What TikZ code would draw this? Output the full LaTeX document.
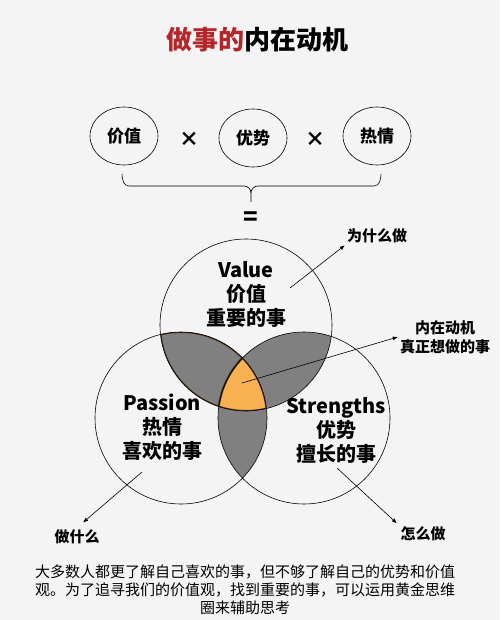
\documentclass[tikz,border=0pt]{standalone}
\usepackage{fontspec}
\setmainfont{Noto Sans CJK SC}
\usetikzlibrary{arrows.meta,shapes.geometric}
\definecolor{bgcol}{HTML}{F4F4F4}
\definecolor{titlered}{HTML}{B5262B}
\definecolor{lensgray}{HTML}{808080}
\definecolor{coreorange}{HTML}{F7B151}
\definecolor{coreedge}{HTML}{4A3418}
\tikzset{
	font=\bfseries,
	>={Latex[length=5pt,width=4pt]},
	factor/.style={draw, ellipse, line width=0.6pt, minimum width=68pt, minimum height=58pt,
		font=\fontsize{17}{17}\selectfont\bfseries},
	setlabel/.style={align=center, font=\fontsize{20}{24}\selectfont\bfseries},
	note/.style={align=center, inner sep=2pt, font=\fontsize{15}{19}\selectfont\bfseries},
	pointer/.style={->, line width=0.6pt}
}

\begin{document}
\begin{tikzpicture}[x=1pt, y=1pt]  % 1 unit = 1 pixel of the page

% page background
\fill[bgcol] (0,0) rectangle (500,-620);
\useasboundingbox (0,0) rectangle (500,-620);

% title
\node (title) at (257,-40) {\fontsize{26}{26}\selectfont\bfseries\textcolor{titlered}{做事的}内在动机};

% three factors
\node[factor] (val) at (124,-136) {价值};
\node[factor] (str) at (253,-138) {优势};
\node[factor] (pas) at (377,-136) {热情};
\node[font=\fontsize{20}{20}\selectfont\bfseries] (x1) at (189,-139) {×};
\node[font=\fontsize{20}{20}\selectfont\bfseries] (x2) at (315,-139) {×};

% brace
\draw[line width=0.6pt] (122,-174) to[out=-90,in=180] (129,-186) -- (244,-186)
	to[out=0,in=90] (251,-193) -- (251,-202);
\draw[line width=0.6pt] (381,-174) to[out=-90,in=0] (374,-186) -- (258,-186)
	to[out=180,in=90] (251,-193);

% equals
\node[font=\fontsize{24}{24}\selectfont\bfseries] (eq) at (251,-219) {=};

% venn circles
\def\topc{(246,-325) circle (86)}
\def\leftc{(181,-418) circle (86)}
\def\rightc{(304,-418) circle (86)}

% pairwise overlaps
\begin{scope}
	\clip \topc;
	\fill[lensgray] \leftc;
	\fill[lensgray] \rightc;
\end{scope}
\begin{scope}
	\clip \leftc;
	\fill[lensgray] \rightc;
\end{scope}

% core overlap
\begin{scope}
	\clip \topc;
	\clip \leftc;
	\fill[coreorange] \rightc;
	\draw[coreedge, line width=2pt] \topc \leftc \rightc;
\end{scope}

% outlines
\draw[line width=0.6pt] \topc \leftc \rightc;

% circle texts
\node[setlabel] (vtext) at (246,-294) {Value\\价值\\重要的事};
\node[setlabel] (ptext) at (162,-427) {Passion\\热情\\喜欢的事};
\node[setlabel] (stext) at (336,-430) {Strengths\\优势\\擅长的事};

% side notes
\node[note] (why) at (377,-236) {为什么做};
\node[note] (core) at (445,-337) {内在动机\\真正想做的事};
\node[note] (what) at (77,-537) {做什么};
\node[note] (how) at (423,-534) {怎么做};

% pointers
\coordinate (vstart) at (290,-288);
\coordinate (cstart) at (242,-383);
\coordinate (pstart) at (142,-472);
\coordinate (sstart) at (337,-468);
\draw[pointer] (vstart) -- (why.south west);
\draw[pointer] (cstart) -- (core.west);
\draw[pointer, shorten >=8pt] (pstart) -- (what.north);
\draw[pointer, shorten >=2pt] (sstart) -- (how.north west);

% caption
\node[align=center, font=\fontsize{15}{18}\selectfont\mdseries] (caption) at (245,-590)
	{大多数人都更了解自己喜欢的事，但不够了解自己的优势和价值\\
	 观。为了追寻我们的价值观，找到重要的事，可以运用黄金思维\\
	 圈来辅助思考};

\end{tikzpicture}
\end{document}
